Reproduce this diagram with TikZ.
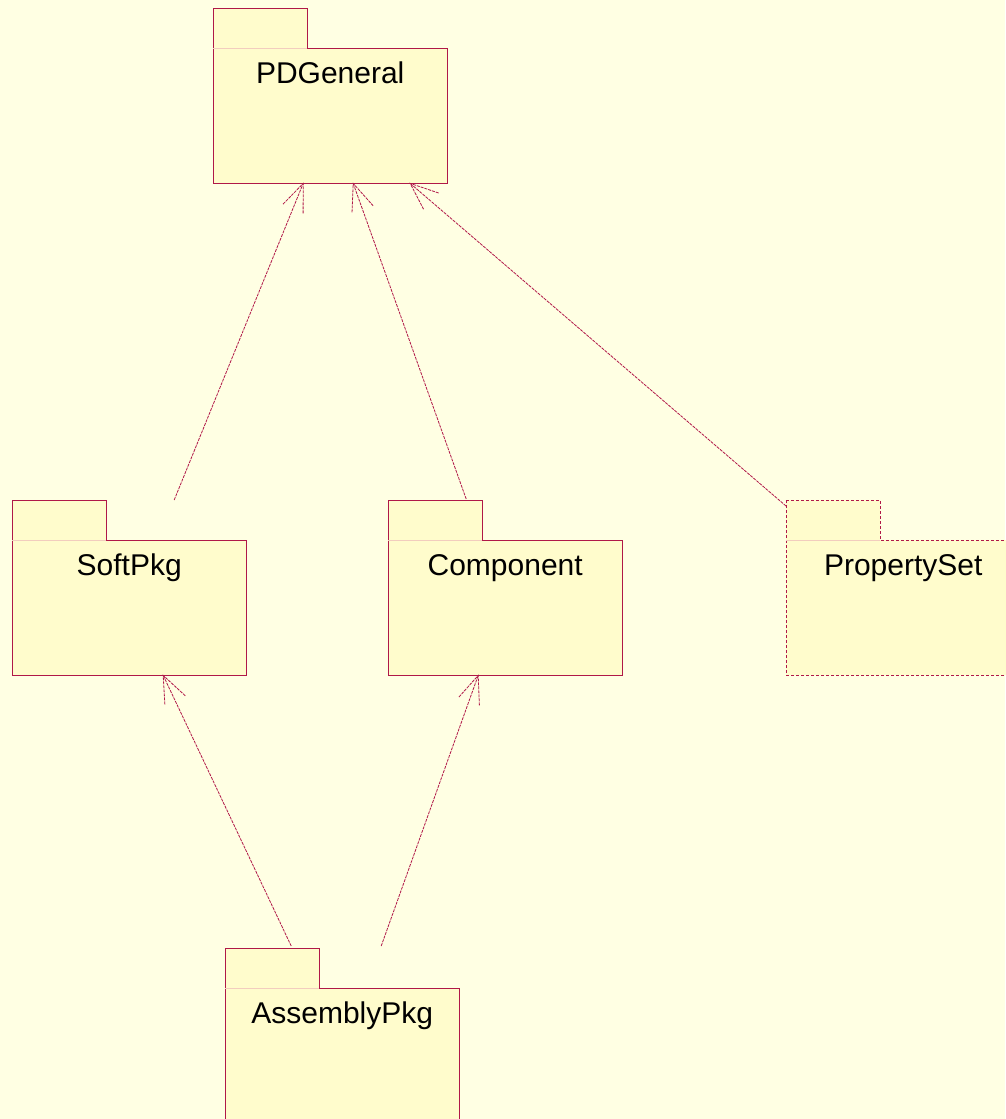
\documentclass[tikz,border=0pt]{standalone}
\usepackage{fontspec}
\setmainfont{Liberation Sans}
\usetikzlibrary{calc}

\definecolor{canvas}{RGB}{255,255,227}
\definecolor{pkgfillc}{RGB}{255,252,204}
\definecolor{edge}{RGB}{176,24,72}
\definecolor{seam}{RGB}{242,205,190}

\tikzset{
  pkgoutline/.style={draw=edge, line width=0.9pt, fill=pkgfillc, line join=miter},
  pkgdashed/.style={dash pattern=on 3pt off 2pt},
  pkgseam/.style={draw=seam, line width=0.8pt},
  pkgbody/.style={minimum width=234pt, minimum height=135pt, inner sep=0pt, anchor=north west},
  pkglabel/.style={font=\fontsize{30}{36}\selectfont, anchor=base, inner sep=0pt},
  depline/.style={draw=edge, line width=0.8pt, dash pattern=on 3pt off 1pt},
}

% UML package: #1 extra style, #2 name, #3/#4 top-left corner of the tab, #5 label
\newcommand{\umlpkg}[5][]{%
  \draw[pkgoutline,#1] (#3,#4) -- ++(94,0) -- ++(0,40) -- ++(140,0)
        -- ++(0,135) -- ++(-234,0) -- cycle;
  \draw[pkgseam] (#3,#4+40) -- ++(94,0);
  \node[pkgbody] (#2) at (#3,#4+40) {};
  \node[pkglabel] (#2-label) at ($(#2.north)+(0,35)$) {#5};
}

% dependency: dashed line from #1 to #2 with an open dashed head at #2
\newcommand{\umldep}[2]{%
  \draw[depline] (#1) -- (#2);
  \draw[depline] ($(#2)!30pt!22:(#1)$) -- (#2) -- ($(#2)!30pt!-22:(#1)$);
}

\begin{document}
\begin{tikzpicture}[x=1pt,y=-1pt]
  \fill[canvas] (0,0) rectangle (1005,1119);
  \useasboundingbox (0,0) rectangle (1005,1119);

  \umlpkg{pd}{213}{8}{PDGeneral}
  \umlpkg{soft}{12}{500}{SoftPkg}
  \umlpkg{comp}{388}{500}{Component}
  \umlpkg[pkgdashed]{ps}{786}{500}{PropertySet}
  \umlpkg{asm}{225}{948}{AssemblyPkg}

  % connector end points
  \coordinate (pdTipA) at ($(pd.south)+(-27,0)$);
  \coordinate (pdTipB) at ($(pd.south)+(23,0)$);
  \coordinate (pdTipC) at ($(pd.south)+(80,0)$);
  \coordinate (softTop) at ($(soft.north)+(45,-40)$);
  \coordinate (compTop) at ($(comp.north)+(-39,-41)$);
  \coordinate (psTop) at ($(ps.north west)+(0,-34)$);
  \coordinate (softTip) at ($(soft.south)+(34,0)$);
  \coordinate (compTip) at ($(comp.south)+(-27,0)$);
  \coordinate (asmTopA) at ($(asm.north)+(-51,-42)$);
  \coordinate (asmTopB) at ($(asm.north)+(39,-42)$);

  \umldep{softTop}{pdTipA}
  \umldep{compTop}{pdTipB}
  \umldep{psTop}{pdTipC}
  \umldep{asmTopA}{softTip}
  \umldep{asmTopB}{compTip}
\end{tikzpicture}
\end{document}
